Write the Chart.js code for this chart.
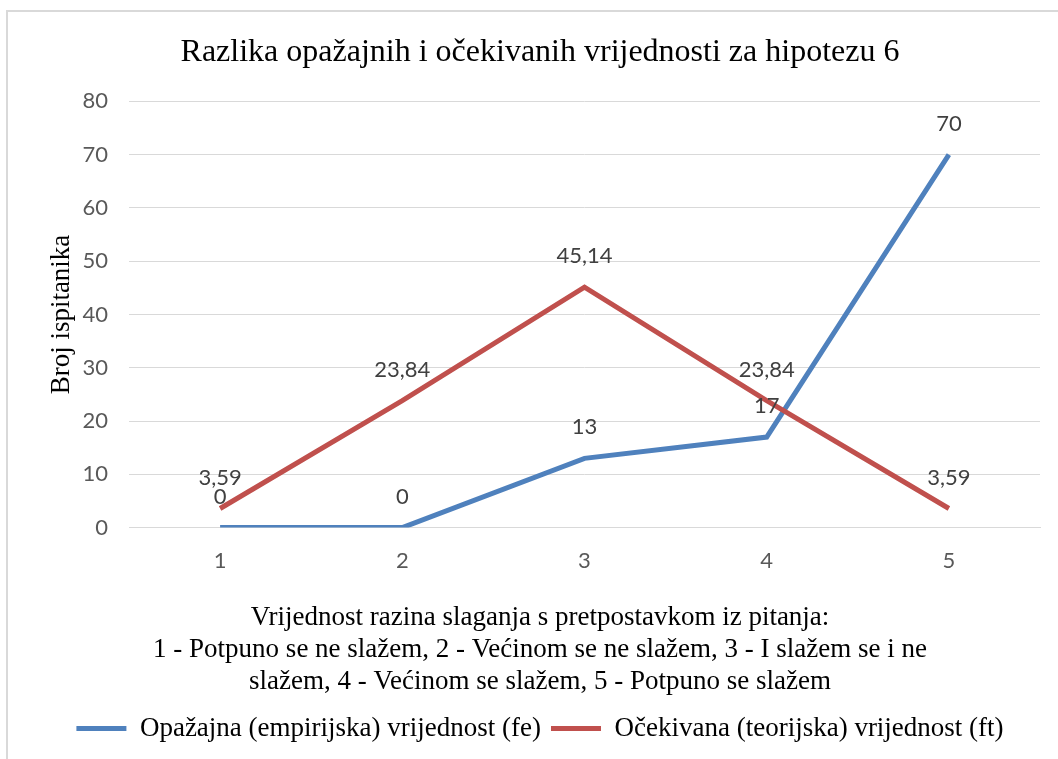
<!DOCTYPE html>
<html>
<head>
<meta charset="utf-8">
<script src="https://cdn.jsdelivr.net/npm/chart.js@4/dist/chart.umd.min.js"></script>
<style>
  html, body { margin: 0; padding: 0; background: #fff; }
  #wrap { position: relative; width: 1058px; height: 759px; }
</style>
</head>
<body>
<div id="wrap"><canvas id="grafikon"></canvas></div>
<script>
const kategorije = ['1', '2', '3', '4', '5'];
const opazajne = [0, 0, 13, 17, 70];
const ocekivane = [3.59, 23.84, 45.14, 23.84, 3.59];
const naslov = 'Razlika opažajnih i očekivanih vrijednosti za hipotezu 6';
const naslovX = [
  'Vrijednost razina slaganja s pretpostavkom iz pitanja:',
  '1 - Potpuno se ne slažem, 2 - Većinom se ne slažem, 3 - I slažem se i ne',
  'slažem, 4 - Većinom se slažem, 5 - Potpuno se slažem'
];
const naslovY = 'Broj ispitanika';

const serif = "'Liberation Serif', 'Times New Roman', serif";
const sans = "Lato, 'Open Sans', sans-serif";

// okvir oko cijelog grafikona
const okvir = {
  id: 'okvir',
  beforeDraw(chart) {
    const c = chart.ctx;
    c.save();
    c.strokeStyle = '#d9d9d9';
    c.lineWidth = 2;
    c.strokeRect(7, 11, 1100, 800);
    c.restore();
  }
};

// oznake vrijednosti iznad točaka
const oznake = {
  id: 'oznake',
  afterDatasetsDraw(chart) {
    const c = chart.ctx;
    c.save();
    c.font = '22px ' + sans;
    c.fillStyle = '#404040';
    c.textAlign = 'center';
    c.textBaseline = 'middle';
    chart.data.datasets.forEach((ds, i) => {
      chart.getDatasetMeta(i).data.forEach((pt, j) => {
        const tekst = String(ds.data[j]).replace('.', ',');
        c.fillText(tekst, pt.x, pt.y - 31);
      });
    });
    c.restore();
  }
};

const ctx = document.getElementById('grafikon');

new Chart(ctx, {
  type: 'line',
  data: {
    labels: kategorije,
    datasets: [
      {
        label: 'Opažajna (empirijska) vrijednost (fe)',
        data: opazajne,
        borderColor: '#4f81bd',
        backgroundColor: '#4f81bd',
        borderWidth: 5,
        pointRadius: 0,
        tension: 0,
        order: 1
      },
      {
        label: 'Očekivana (teorijska) vrijednost (ft)',
        data: ocekivane,
        borderColor: '#c0504d',
        backgroundColor: '#c0504d',
        borderWidth: 5,
        pointRadius: 0,
        tension: 0,
        order: 0
      }
    ]
  },
  options: {
    responsive: true,
    maintainAspectRatio: false,
    animation: false,
    layout: {
      padding: { top: 12, left: 40, right: 18, bottom: 7 }
    },
    plugins: {
      title: {
        display: true,
        text: naslov,
        color: '#000',
        font: { size: 32, family: serif, weight: 'normal' },
        padding: { top: 21, bottom: 30 }
      },
      // naslov osi x, centriran na cijeli grafikon kao u Excelu
      subtitle: {
        display: true,
        position: 'bottom',
        weight: 500,
        text: naslovX,
        color: '#000',
        font: { size: 27, family: serif, weight: 'normal', lineHeight: 1.185 },
        padding: { top: 8, bottom: 7 }
      },
      legend: {
        position: 'bottom',
        labels: {
          color: '#000',
          font: { size: 27, family: serif },
          boxWidth: 50,
          boxHeight: 5,
          padding: 10,
          sort: (a, b) => a.datasetIndex - b.datasetIndex,
          generateLabels(chart) {
            const def = Chart.defaults.plugins.legend.labels.generateLabels(chart);
            return def.map((l) => Object.assign(l, { lineWidth: 0 }));
          }
        }
      },
      tooltip: { enabled: false }
    },
    scales: {
      x: {
        offset: true,
        grid: { display: false, drawTicks: false },
        border: { display: true, color: '#d9d9d9', width: 1 },
        ticks: {
          color: '#595959',
          font: { size: 22, family: sans },
          padding: 20
        }
      },
      y: {
        min: 0,
        max: 80,
        afterFit(scale) { scale.width = 89; },
        grid: { color: '#d9d9d9', lineWidth: 1, drawTicks: false },
        border: { display: false },
        ticks: {
          stepSize: 10,
          color: '#595959',
          font: { size: 22, family: sans },
          padding: 21
        },
        title: {
          display: true,
          text: naslovY,
          color: '#000',
          font: { size: 27, family: serif },
          padding: { top: 6, bottom: 0 }
        }
      }
    }
  },
  plugins: [okvir, oznake]
});
</script>
</body>
</html>
